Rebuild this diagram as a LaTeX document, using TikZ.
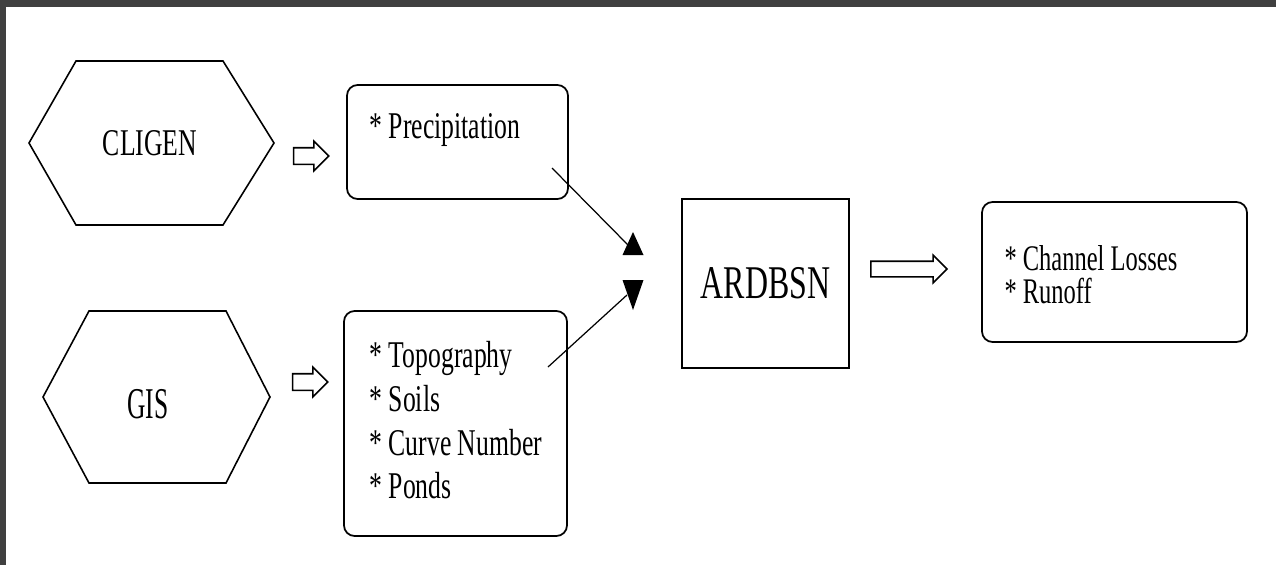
\documentclass[tikz,border=0pt]{standalone}
\usepackage{fontspec}
\usepackage{tikz}
\usetikzlibrary{shapes.arrows,positioning,calc}
\newfontfamily\scanfont[FakeStretch=0.68]{Liberation Serif}
\newfontfamily\gisfont[FakeStretch=0.58]{Liberation Serif}

\begin{document}
\begin{tikzpicture}[
    x=0.02cm, y=-0.02cm,
    roundbox/.style={draw, rounded corners=6pt, line width=1pt, inner sep=0pt},
    plainbox/.style={draw, line width=1pt, inner sep=0pt},
    hexline/.style={draw, line width=0.9pt},
    hexlabel/.style={inner sep=0pt, font=\scanfont\fontsize{21.5}{24}\selectfont},
    listtext/.style={inner sep=0pt, align=left, anchor=north west},
    hollowarrow/.style={single arrow, draw, line width=0.9pt, inner xsep=0pt, text height=0pt, text depth=0pt},
    feedline/.style={line width=0.7pt}
]
    \useasboundingbox (0,0) rectangle (1276,565);
    % scan edges
    \fill[black!75] (0,0) rectangle (1276,7);
    \fill[black!75] (0,0) rectangle (6,565);

    % sources
    \node[hexlabel] (cligen) at (150,143) {CLIGEN};
    \draw[hexline] (29,143) -- (76,61) -- (223,61) -- (274,143) -- (223,225) -- (76,225) -- cycle;
    \node[hexlabel, font=\gisfont\fontsize{25}{28}\selectfont] (gis) at (148,404) {GIS};
    \draw[hexline] (43,397) -- (89,311) -- (226,311) -- (270,397) -- (226,483) -- (89,483) -- cycle;

    \node[hollowarrow, inner ysep=0.15cm, single arrow head extend=0.13cm, minimum height=0.7cm] (cligenarrow) at (307,156) {};
    \node[hollowarrow, inner ysep=0.15cm, single arrow head extend=0.13cm, minimum height=0.7cm] (gisarrow) at (306,382) {};

    % inputs
    \node[roundbox, minimum width=4.42cm, minimum height=2.28cm] (precip) at (457.5,142) {};
    \node[listtext, font=\scanfont\fontsize{21.5}{24.9}\selectfont] (preciptext) at ($(precip.north west)+(23,29)$) {* Precipitation};
    \node[roundbox, minimum width=4.46cm, minimum height=4.5cm] (topo) at (455.5,423.5) {};
    \node[listtext, font=\scanfont\fontsize{21.5}{24.9}\selectfont] (topotext) at ($(topo.north west)+(26,31)$) {* Topography\\* Soils\\* Curve Number\\* Ponds};

    % model
    \node[plainbox, minimum width=3.34cm, minimum height=3.38cm, font=\scanfont\fontsize{26.7}{30}\selectfont] (ardbsn) at (765.5,283.5) {ARDBSN};
    \node[hollowarrow, inner ysep=0.14cm, single arrow head extend=0.12cm, minimum height=1.52cm] (outarrow) at (905,269) {};

    % outputs
    \node[roundbox, minimum width=5.3cm, minimum height=2.8cm] (output) at (1114.5,272) {};
    \node[listtext, font=\scanfont\fontsize{20.5}{18.8}\selectfont] (outputtext) at ($(output.north west)+(23,44)$) {* Channel Losses\\* Runoff};

    % feeds into the model
    \coordinate (precipout) at (552,168);
    \coordinate (topoout) at (548,367);
    \coordinate (tipup) at (633,232);
    \coordinate (tipdn) at (633,310);
    \draw[feedline] (precipout) -- ($(tipup)+(-5,13)$);
    \draw[feedline] (topoout) -- ($(tipdn)+(-6,-15)$);
    \fill (tipup) -- ++(10.5,23) -- ++(-21,0) -- cycle;
    \fill (tipdn) -- ++(10.5,-30) -- ++(-21,0) -- cycle;
\end{tikzpicture}
\end{document}
